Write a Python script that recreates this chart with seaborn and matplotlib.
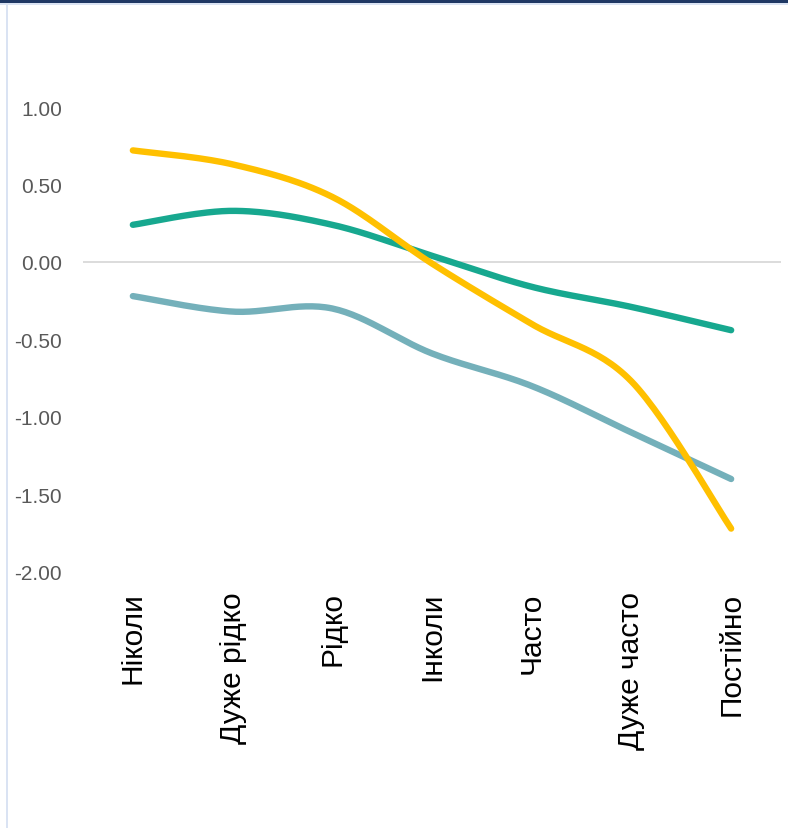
import numpy as np
import pandas as pd
import matplotlib
matplotlib.use("Agg")
import matplotlib.pyplot as plt
import seaborn as sns
from matplotlib.patches import Rectangle

categories = ["Ніколи", "Дуже рідко", "Рідко", "Інколи", "Часто", "Дуже часто", "Постійно"]
yellow_vals = [0.72, 0.63, 0.42, -0.01, -0.40, -0.77, -1.72]
green_vals = [0.24, 0.33, 0.24, 0.04, -0.16, -0.29, -0.44]
teal_vals = [-0.22, -0.32, -0.30, -0.59, -0.80, -1.10, -1.40]
y_ticks = [1.0, 0.5, 0.0, -0.5, -1.0, -1.5, -2.0]


def smooth(xs, ys, steps=30):
    # excel-like smoothed line: cubic bezier with catmull-rom control points
    xs = np.asarray(xs, float)
    ys = np.asarray(ys, float)
    n = len(xs)
    out_x, out_y = [], []
    for i in range(n - 1):
        p0 = np.array([xs[max(i - 1, 0)], ys[max(i - 1, 0)]])
        p1 = np.array([xs[i], ys[i]])
        p2 = np.array([xs[i + 1], ys[i + 1]])
        p3 = np.array([xs[min(i + 2, n - 1)], ys[min(i + 2, n - 1)]])
        c1 = p1 + (p2 - p0) / 6.0
        c2 = p2 - (p3 - p1) / 6.0
        t = np.linspace(0, 1, steps, endpoint=(i == n - 2))[:, None]
        pts = ((1 - t) ** 3) * p1 + 3 * ((1 - t) ** 2) * t * c1 + 3 * (1 - t) * t ** 2 * c2 + t ** 3 * p2
        out_x.extend(pts[:, 0])
        out_y.extend(pts[:, 1])
    return np.array(out_x), np.array(out_y)


sns.set_theme(style="white")
plt.rcParams['font.family'] = ['Liberation Sans', 'DejaVu Sans']

fig = plt.figure(figsize=(7.88, 8.29), dpi=100)
ax = fig.add_axes([83 / 788, 1 - 573 / 829, (781 - 83) / 788, (573 - 108) / 829])

ax.axhline(0, color="#D9D9D9", lw=1.3, zorder=1)

x_idx = np.arange(len(categories))
series = [("teal", teal_vals, "#74B0BA"), ("green", green_vals, "#17A88F"), ("yellow", yellow_vals, "#FFC000")]
for name, vals, col in series:
    sx, sy = smooth(x_idx, vals)
    df = pd.DataFrame({"x": sx, "y": sy})
    sns.lineplot(data=df, x="x", y="y", ax=ax, color=col, lw=4.6, sort=False,
                 solid_capstyle="round", zorder=3)

ax.set_xlim(-0.5, 6.5)
ax.set_ylim(-2.0, 1.0)
ax.set_yticks(y_ticks)
ax.set_yticklabels([f"{v:.2f}" for v in y_ticks], color="#595959", fontsize=15)
ax.set_xticks(x_idx)
ax.set_xticklabels(categories, rotation=90, fontsize=21.5, color="black", va="top", ha="center")
ax.tick_params(axis="y", length=0, pad=15)
ax.tick_params(axis="x", length=0, pad=14)
ax.set_xlabel("")
ax.set_ylabel("")
for s in ax.spines.values():
    s.set_visible(False)

# chart frame decorations
fig.add_artist(Rectangle((0, 1 - 4 / 829), 1, 4 / 829, transform=fig.transFigure,
                         color="#1F3864", lw=0))
fig.add_artist(Rectangle((0, 1 - 6 / 829), 1, 2 / 829, transform=fig.transFigure,
                         color="#DAE3F3", lw=0))
fig.add_artist(Rectangle((6 / 788, 0), 2 / 788, 1 - 6 / 829, transform=fig.transFigure,
                         color="#DAE3F3", lw=0))

fig.savefig("out.png", dpi=100)
